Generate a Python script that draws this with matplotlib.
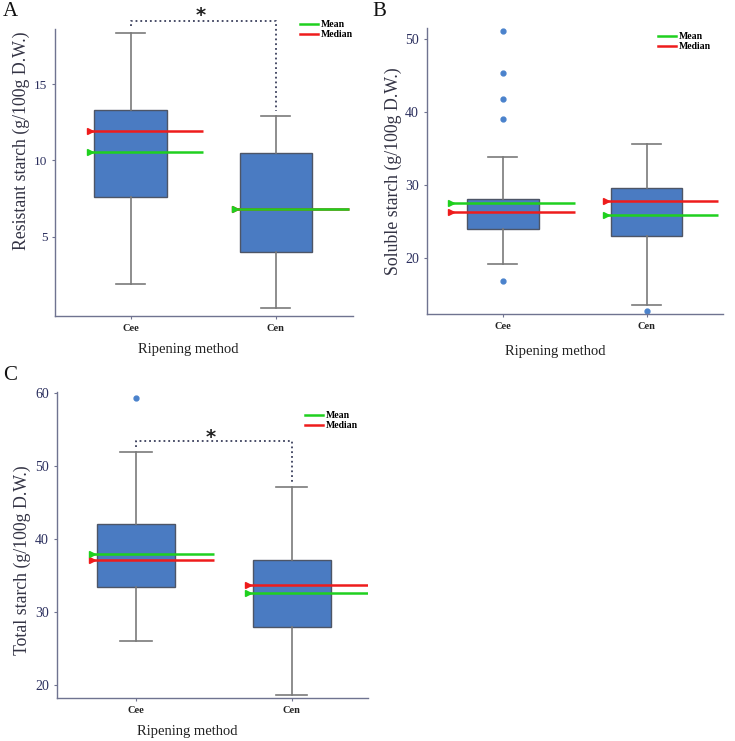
import matplotlib
matplotlib.use('Agg')  # no display
import matplotlib.pyplot as plt
from matplotlib.lines import Line2D

groups = ['Cee', 'Cen']

# A - resistant starch
rs_whislo = [1.9, 0.35]
rs_q1 = [7.6, 4.0]
rs_med = [11.9, 6.8]
rs_q3 = [13.3, 10.5]
rs_whishi = [18.35, 12.9]
rs_mean = [10.55, 6.8]
rs_fliers = [[], []]

# B - soluble starch
ss_whislo = [19.2, 13.6]
ss_q1 = [23.9, 23.0]
ss_med = [26.2, 27.7]
ss_q3 = [28.1, 29.6]
ss_whishi = [33.8, 35.6]
ss_mean = [27.5, 25.9]
ss_fliers = [[51.0, 45.3, 41.7, 39.0, 16.8], [12.7]]

# C - total starch
ts_whislo = [26.1, 18.7]
ts_q1 = [33.4, 28.0]
ts_med = [37.2, 33.7]
ts_q3 = [42.1, 37.2]
ts_whishi = [51.9, 47.1]
ts_mean = [38.0, 32.7]
ts_fliers = [[59.4], []]

SERIF = 'Liberation Serif'
BOX_COLOR = '#4a7bc2'
EDGE = '#4d5566'
WHISK = '#7a7a7a'
SPINE = '#6f7390'
TICK_COLOR = '#2b2f5e'
MEAN_C = '#1fd01f'
MED_C = '#ee1c1c'


def draw_panel(ax, whislo, q1, med, q3, whishi, mean, fliers, ylabel, yticks,
               ylim, xlim, legend_anchor, ylabel_xy, xlabel_xy,
               line_start=(-0.28, -0.28), tick_size=10):
    stats = []
    for i, g in enumerate(groups):
        stats.append({'label': g, 'whislo': whislo[i], 'q1': q1[i], 'med': med[i],
                      'q3': q3[i], 'whishi': whishi[i], 'fliers': fliers[i]})
    ax.bxp(stats, positions=[0, 1], widths=0.5, patch_artist=True, capwidths=0.2,
           boxprops=dict(facecolor=BOX_COLOR, edgecolor=EDGE, linewidth=1.0),
           whiskerprops=dict(color=WHISK, linewidth=1.2),
           capprops=dict(color=WHISK, linewidth=1.2),
           medianprops=dict(visible=False),
           flierprops=dict(marker='o', markersize=3.5, markerfacecolor='#4a82cc',
                           markeredgecolor='#4a82cc'))

    # mean / median lines with arrow marker at the left end
    for i in range(len(groups)):
        x0 = i + line_start[i]
        ax.hlines(med[i], x0, i + 0.5, color=MED_C, linewidth=1.8, zorder=4)
        ax.plot([x0], [med[i]], marker='>', color=MED_C, markersize=5, zorder=5)
        ax.hlines(mean[i], x0, i + 0.5, color=MEAN_C, linewidth=1.8, zorder=4)
        ax.plot([x0], [mean[i]], marker='>', color=MEAN_C, markersize=5, zorder=5)

    ax.set_xlim(*xlim)
    ax.set_ylim(*ylim)
    ax.set_yticks(yticks)
    ax.set_xticks([0, 1])
    ax.set_xticklabels(groups, fontfamily=SERIF, fontweight='bold', fontsize=7.5,
                       color='#222222')
    for lab in ax.get_yticklabels():
        lab.set_fontfamily(SERIF)
        lab.set_fontsize(tick_size)
        lab.set_color(TICK_COLOR)
    ax.tick_params(axis='both', length=2, color=SPINE, width=0.8)
    ax.tick_params(axis='x', pad=4)
    for side in ['top', 'right']:
        ax.spines[side].set_visible(False)
    for side in ['left', 'bottom']:
        ax.spines[side].set_color(SPINE)
        ax.spines[side].set_linewidth(1.0)

    ax.set_ylabel(ylabel, fontfamily=SERIF, fontsize=12.8, color='#333344')
    ax.yaxis.set_label_coords(*ylabel_xy)
    ax.set_xlabel('Ripening method', fontfamily=SERIF, fontsize=10.5, color='#222222')
    ax.xaxis.set_label_coords(*xlabel_xy)
    ax.xaxis.label.set_va('center')

    handles = [Line2D([], [], color=MEAN_C, linewidth=1.8),
               Line2D([], [], color=MED_C, linewidth=1.8)]
    ax.legend(handles, ['Mean', 'Median'], loc='upper right',
              bbox_to_anchor=legend_anchor, frameon=False, handlelength=1.85,
              handletextpad=0.3, labelspacing=0.1, borderaxespad=0,
              prop={'family': SERIF, 'weight': 'bold', 'size': 7})


def bracket(ax, y, y_left, y_right, star_y):
    ax.plot([0, 0, 1, 1], [y_left, y, y, y_right], linestyle=':', color='#3a3f5c',
            linewidth=1.3, clip_on=False, zorder=6)
    ax.text(0.48, star_y, '*', ha='center', va='center', fontsize=14,
            fontweight='bold', clip_on=False, color='#222222')


fig = plt.figure(figsize=(7.35, 7.41), dpi=100)
axA = fig.add_axes([0.0748, 0.5735, 0.4054, 0.3873])
axB = fig.add_axes([0.5805, 0.5762, 0.4027, 0.3856])
axC = fig.add_axes([0.0771, 0.0584, 0.4236, 0.4130])

draw_panel(axA, rs_whislo, rs_q1, rs_med, rs_q3, rs_whishi, rs_mean, rs_fliers,
           'Resistant starch (g/100g D.W.)', [5, 10, 15], (-0.2, 18.6),
           (-0.52, 1.53), (1.013, 1.045), (-0.085, 0.61), (0.448, -0.115),
           tick_size=9.5)
bracket(axA, 19.1, 18.8, 13.2, 19.5)

draw_panel(axB, ss_whislo, ss_q1, ss_med, ss_q3, ss_whishi, ss_mean, ss_fliers,
           'Soluble starch (g/100g D.W.)', [20, 30, 40, 50], (12.3, 51.4),
           (-0.53, 1.53), (0.974, 0.999), (-0.085, 0.5), (0.433, -0.13),
           line_start=(-0.36, -0.28))

draw_panel(axC, ts_whislo, ts_q1, ts_med, ts_q3, ts_whishi, ts_mean, ts_fliers,
           'Total starch (g/100g D.W.)', [20, 30, 40, 50, 60], (18.3, 60.2),
           (-0.51, 1.49), (0.981, 0.948), (-0.083, 0.45), (0.42, -0.11))
bracket(axC, 53.5, 52.6, 47.6, 53.9)

for lbl, (x, y) in zip(['A', 'B', 'C'], [(3, 11), (372, 11), (3, 376)]):
    fig.text(x / 735, 1 - y / 741, lbl, fontfamily=SERIF, fontsize=15,
             va='center', ha='left', color='#111111')

fig.savefig('out.png', dpi=100)
plt.close(fig)
